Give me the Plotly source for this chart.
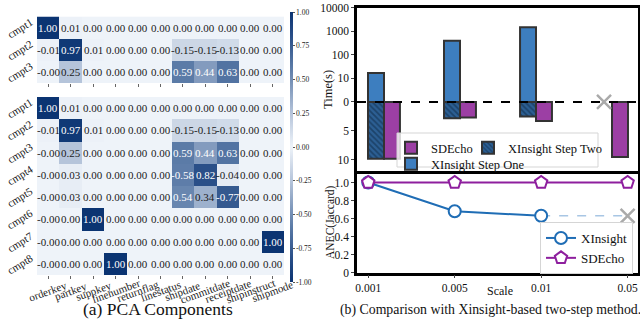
import math
import plotly.graph_objects as go

# ---------------- data ----------------
columns = ["orderkey", "partkey", "suppkey", "linenumber", "returnflag", "linestatus",
           "shipdate", "commitdate", "receiptdate", "shipinstruct", "shipmode"]
components = ["cmpt1", "cmpt2", "cmpt3", "cmpt4", "cmpt5", "cmpt6", "cmpt7", "cmpt8"]
cmpt1 = [1.00, 0.01, 0.00, 0.00, 0.00, 0.00, 0.00, 0.00, 0.00, 0.00, 0.00]
cmpt2 = [-0.01, 0.97, 0.01, 0.00, 0.00, 0.00, -0.15, -0.15, -0.13, 0.00, 0.00]
cmpt3 = [-0.0, 0.25, 0.00, 0.00, 0.00, 0.00, 0.59, 0.44, 0.63, 0.00, 0.00]
cmpt4 = [-0.0, 0.03, 0.00, 0.00, 0.00, 0.00, -0.58, 0.82, -0.04, 0.00, 0.00]
cmpt5 = [-0.0, 0.03, 0.00, 0.00, 0.00, 0.00, 0.54, 0.34, -0.77, 0.00, 0.00]
cmpt6 = [-0.0, 0.00, 1.00, 0.00, 0.00, 0.00, 0.00, 0.00, 0.00, 0.00, 0.00]
cmpt7 = [-0.0, 0.00, 0.00, 0.00, 0.00, 0.00, 0.00, 0.00, 0.00, 0.00, 1.00]
cmpt8 = [-0.0, 0.00, 0.00, 1.00, 0.00, 0.00, 0.00, 0.00, 0.00, 0.00, 0.00]
pca_top = [cmpt1, cmpt2, cmpt3]
pca_all = [cmpt1, cmpt2, cmpt3, cmpt4, cmpt5, cmpt6, cmpt7, cmpt8]
cbar_ticks = [1.0, 0.75, 0.5, 0.25, 0.0, -0.25, -0.5, -0.75, -1.0]

scales = ["0.001", "0.005", "0.01", "0.05"]
xinsight_step_one = [17, 400, 1500, None]      # seconds (log part, upward)
xinsight_step_two = [9.8, 2.8, 2.5, None]      # seconds (linear part, downward)
sdecho_time = [9.8, 2.7, 3.3, 9.5]             # seconds (linear part, downward)
time_up_ticks = [10000, 1000, 100, 10]
time_down_ticks = [5, 10]

anec_xinsight = [1.0, 0.68, 0.63]
anec_sdecho = [1.0, 1.0, 1.0, 1.0]
anec_ticks = [0, 0.2, 0.4, 0.6, 0.8, 1.0]

# ---------------- helpers ----------------
W, H = 640, 322
SERIF = "Liberation Serif"


def px(x):
    return x / W


def py(y):
    return 1 - y / H


LIN_K = 5.8 / 23.5  # px-per-second (linear part) relative to px-per-decade


def t_up(v):
    return None if v is None else math.log10(v)


def t_down(v):
    return None if v is None else -v * LIN_K


blue_scale = [
    [0.0, "#0b3472"], [0.09, "#2a4f88"], [0.205, "#5b7ba7"], [0.375, "#b5c4da"],
    [0.5, "#eef3f9"],
    [0.625, "#b5c4da"], [0.795, "#5b7ba7"], [0.91, "#2a4f88"], [1.0, "#0b3472"],
]

fig = go.Figure()

# ---------------- heatmaps ----------------
fig.add_trace(go.Heatmap(
    z=pca_top, x=list(range(len(columns))), y=list(range(len(pca_top))),
    zmin=-1, zmax=1, colorscale=blue_scale, showscale=False,
    xaxis="x", yaxis="y", hoverinfo="skip"))
fig.add_trace(go.Heatmap(
    z=pca_all, x=list(range(len(columns))), y=list(range(len(pca_all))),
    zmin=-1, zmax=1, colorscale=blue_scale, showscale=True,
    colorbar=dict(x=px(290), xanchor="left", y=py(147), yanchor="middle",
                  lenmode="pixels", len=270, thickness=3, outlinewidth=0, xpad=0, ypad=0,
                  tickvals=cbar_ticks, ticktext=[f"{t:.2f}" for t in cbar_ticks],
                  ticks="outside", ticklen=2, tickcolor="#555",
                  tickfont=dict(family=SERIF, size=7.5, color="#222")),
    xaxis="x2", yaxis="y2", hoverinfo="skip"))


def ann(**kw):
    d = dict(showarrow=False, xanchor="center", yanchor="middle")
    d.update(kw)
    return d


annotations = []
for (mat, xr, yr) in [(pca_top, "x", "y"), (pca_all, "x2", "y2")]:
    for i, row in enumerate(mat):
        for j, v in enumerate(row):
            annotations.append(ann(
                x=j, y=i, xref=xr, yref=yr, text=f"{v:.2f}",
                font=dict(family=SERIF, size=11,
                          color="white" if abs(v) >= 0.4 else "#1a1a1a")))
    for i in range(len(mat)):
        annotations.append(ann(
            x=px(20), y=i, xref="paper", yref=yr, text=components[i],
            textangle=-32, font=dict(family=SERIF, size=11, color="#1a1a1a")))
for j, c in enumerate(columns):
    annotations.append(ann(
        x=j, y=py(291), xref="x2", yref="paper", text=c,
        textangle=-20, font=dict(family=SERIF, size=11, color="#1a1a1a")))

# ---------------- bar chart (time) ----------------
BW = 0.21
x_idx = list(range(len(scales)))
edge = dict(color="#333333", width=2)
fig.add_trace(go.Bar(
    x=x_idx, y=[t_up(v) for v in xinsight_step_one], base=0, width=BW, offset=-BW,
    marker=dict(color="#3d7ebf", line=edge), name="XInsight Step One",
    xaxis="x3", yaxis="y3", legend="legend3", hoverinfo="skip"))
fig.add_trace(go.Bar(
    x=x_idx, y=[t_down(v) for v in xinsight_step_two], base=0, width=BW, offset=-BW,
    marker=dict(color="#2c5f93", line=edge,
                pattern=dict(shape="\\", fgcolor="#0d2742", size=4, solidity=0.45)),
    name="XInsight Step Two",
    xaxis="x3", yaxis="y3", legend="legend4", hoverinfo="skip"))
fig.add_trace(go.Bar(
    x=x_idx, y=[t_down(v) for v in sdecho_time], base=0, width=BW, offset=0,
    marker=dict(color="#9c3fa4", line=edge), name="SDEcho",
    xaxis="x3", yaxis="y3", legend="legend2", hoverinfo="skip"))
# failed XInsight run at the largest scale
fail_idx = [i for i, v in enumerate(xinsight_step_one) if v is None]
fig.add_trace(go.Scatter(
    x=[i - BW / 2 for i in fail_idx], y=[0 for _ in fail_idx], mode="markers",
    marker=dict(symbol="x-thin", size=14, line=dict(color="#aaaaaa", width=2.5)),
    showlegend=False, xaxis="x3", yaxis="y3", hoverinfo="skip"))

# ---------------- line chart (ANEC) ----------------
fig.add_trace(go.Scatter(
    x=x_idx[len(anec_xinsight) - 1:], y=[anec_xinsight[-1]] * (len(scales) - len(anec_xinsight) + 1),
    mode="lines", line=dict(color="#a8c6e4", width=1.6, dash="dash"),
    showlegend=False, xaxis="x4", yaxis="y4", hoverinfo="skip"))
fig.add_trace(go.Scatter(
    x=x_idx[len(anec_xinsight):], y=[anec_xinsight[-1]] * (len(scales) - len(anec_xinsight)),
    mode="markers", marker=dict(symbol="x-thin", size=14, line=dict(color="#aaaaaa", width=2.5)),
    showlegend=False, xaxis="x4", yaxis="y4", hoverinfo="skip"))
fig.add_trace(go.Scatter(
    x=x_idx[:len(anec_xinsight)], y=anec_xinsight, mode="lines+markers", name="XInsight",
    line=dict(color="#1f6db5", width=2),
    marker=dict(symbol="circle", size=12, color="white", line=dict(color="#1f6db5", width=2)),
    xaxis="x4", yaxis="y4", legend="legend", hoverinfo="skip"))
fig.add_trace(go.Scatter(
    x=x_idx, y=anec_sdecho, mode="lines+markers", name="SDEcho",
    line=dict(color="#8e1f9e", width=2),
    marker=dict(symbol="pentagon", size=13, color="white", line=dict(color="#8e1f9e", width=2)),
    xaxis="x4", yaxis="y4", legend="legend", hoverinfo="skip"))

# ---------------- layout ----------------
hm_x = dict(domain=[px(37), px(284)], range=[-0.5, len(columns) - 0.5],
            tickvals=list(range(len(columns))), showticklabels=False,
            ticks="outside", ticklen=3, tickcolor="#666", showgrid=False, zeroline=False)
hm_y = dict(showticklabels=False, ticks="", showgrid=False, zeroline=False)
tick_font = dict(family=SERIF, size=11.5, color="#111")
frame = dict(showline=True, linecolor="black", linewidth=2.5, mirror=True,
             showgrid=False, zeroline=False, automargin=False)

up_vals = [t_up(v) for v in time_up_ticks] + [0] + [t_down(v) for v in time_down_ticks]
up_text = [str(v) for v in time_up_ticks] + ["0"] + [str(v) for v in time_down_ticks]

small_leg = dict(xanchor="left", yanchor="top", bgcolor="rgba(0,0,0,0)", borderwidth=0,
                 font=dict(family=SERIF, size=12.5, color="#111"))

fig.update_layout(
    width=W, height=H, margin=dict(l=0, r=0, t=0, b=0, pad=0, autoexpand=False),
    paper_bgcolor="white", plot_bgcolor="white",
    barmode="overlay", font=dict(family=SERIF, color="#111"),
    xaxis=dict(hm_x, anchor="y"),
    yaxis=dict(hm_y, domain=[py(83), py(16.5)], range=[len(pca_top) - 0.5, -0.5], anchor="x"),
    xaxis2=dict(hm_x, anchor="y2"),
    yaxis2=dict(hm_y, domain=[py(275), py(97)], range=[len(pca_all) - 0.5, -0.5], anchor="x2"),
    xaxis3=dict(frame, domain=[px(357), px(638)], range=[-0.355, 3.342],
                showticklabels=False, ticks="", anchor="y3"),
    yaxis3=dict(frame, domain=[py(171), py(7.5)], range=[-2.94, 4.02], anchor="x3",
                tickvals=up_vals, ticktext=up_text, ticks="outside", ticklen=3,
                tickfont=tick_font),
    xaxis4=dict(frame, domain=[px(357), px(638)], range=[-0.13, 3.12], anchor="y4",
                tickvals=x_idx, ticktext=scales, ticks="outside", ticklen=3,
                tickfont=tick_font),
    yaxis4=dict(frame, domain=[py(272.5), py(173.5)], range=[0, 1.1], anchor="x4",
                tickvals=anec_ticks, ticktext=["0", "0.2", "0.4", "0.6", "0.8", "1.0"],
                ticks="outside", ticklen=3, tickfont=tick_font),
    legend=dict(x=px(540), y=py(222), xanchor="left", yanchor="top",
                bgcolor="rgba(255,255,255,0.85)", bordercolor="#d5d5d5", borderwidth=1,
                font=dict(family=SERIF, size=13, color="#111"), tracegroupgap=0),
    legend2=dict(small_leg, x=px(391), y=py(133)),
    legend4=dict(small_leg, x=px(468), y=py(133)),
    legend3=dict(small_leg, x=px(391), y=py(149)),
    shapes=[
        dict(type="line", xref="x3 domain", yref="y3", x0=0, x1=1, y0=0, y1=0,
             line=dict(color="black", width=2, dash="dash"), layer="above"),
        dict(type="rect", xref="paper", yref="paper", x0=px(397), x1=px(598),
             y0=py(167), y1=py(133), line=dict(color="#d5d5d5", width=1),
             fillcolor="rgba(255,255,255,0.8)", layer="above"),
    ],
    annotations=annotations + [
        ann(x=px(328), y=py(90), xref="paper", yref="paper",
            text="Time(s)", textangle=-90, font=dict(family=SERIF, size=12.5, color="#111")),
        ann(x=px(330), y=py(222), xref="paper", yref="paper",
            text="ANEC(Jaccard)", textangle=-90, font=dict(family=SERIF, size=11.5, color="#111")),
        ann(x=px(500), y=py(291), xref="paper", yref="paper",
            text="Scale", font=dict(family=SERIF, size=12, color="#111")),
        ann(x=px(158), y=py(309), xref="paper", yref="paper",
            text="(a) PCA Components", font=dict(family=SERIF, size=17.5, color="#111")),
        ann(x=px(490), y=py(310), xref="paper", yref="paper",
            text="(b) Comparison with Xinsight-based two-step method.",
            font=dict(family=SERIF, size=13.8, color="#111")),
    ],
)

fig.write_html("out.html", config={"displayModeBar": False},
               post_script="document.body.style.margin='0px';document.body.style.overflow='hidden';")
